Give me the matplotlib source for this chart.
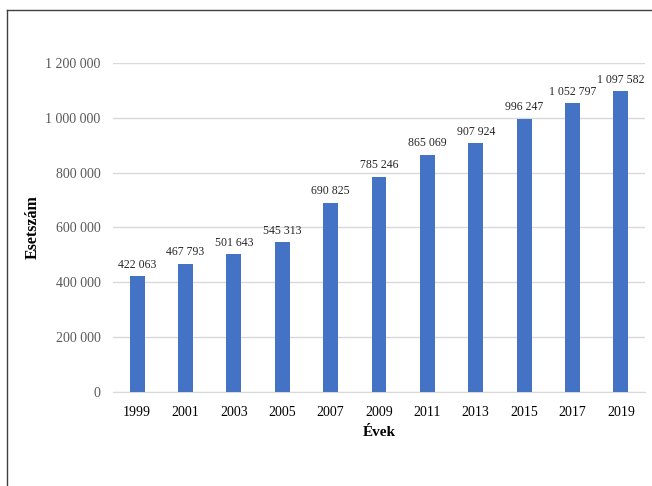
import matplotlib.pyplot as plt
from matplotlib.lines import Line2D
from matplotlib.ticker import FuncFormatter

years = ['1999', '2001', '2003', '2005', '2007', '2009', '2011', '2013', '2015', '2017', '2019']
cases = [422063, 467793, 501643, 545313, 690825, 785246, 865069, 907924, 996247, 1052797, 1097582]

plt.rcParams['font.family'] = ['Liberation Serif', 'DejaVu Serif']


def fmt(v, pos=None):
    return '{:,}'.format(int(v)).replace(',', ' ')


W, H = 652, 486
fig = plt.figure(figsize=(W / 100, H / 100), dpi=100)
ax = fig.add_axes([113 / W, 1 - 392 / H, (645 - 113) / W, (392 - 63) / H])

x = range(len(years))
bars = ax.bar(x, cases, width=0.31, color='#4472C4', zorder=3)
for xi, v in zip(x, cases):
    ax.annotate(fmt(v), (xi, v), xytext=(0, 4), textcoords='offset points',
                ha='center', va='bottom', fontsize=8.5, color='#262626')

ax.set_xlim(-0.5, len(years) - 0.5)
ax.set_ylim(0, 1200000)
ax.set_yticks(range(0, 1200001, 200000))
ax.yaxis.set_major_formatter(FuncFormatter(fmt))
ax.set_xticks(list(x))
ax.set_xticklabels(years)
ax.grid(axis='y', color='#D9D9D9', linewidth=1, zorder=0)
for s in ['top', 'right', 'left']:
    ax.spines[s].set_visible(False)
ax.spines['bottom'].set_color('#D9D9D9')
ax.tick_params(axis='both', length=0)
ax.tick_params(axis='y', labelsize=10, labelcolor='#595959', pad=9)
ax.tick_params(axis='x', labelsize=10, labelcolor='black', pad=10)

ax.set_xlabel('Évek', fontsize=11, fontweight='bold', labelpad=5)
ax.set_ylabel('Esetszám', fontsize=11.5, fontweight='bold')
ax.yaxis.set_label_coords((41 - 113) / (645 - 113), 0.5)

# outer frame (left and top edges)
fig.add_artist(Line2D([7 / W, 7 / W], [0, 1 - 10.5 / H], color='#404040', lw=1))
fig.add_artist(Line2D([7 / W, 1], [1 - 10.5 / H, 1 - 10.5 / H], color='#404040', lw=1))

plt.savefig('out.png', dpi=100)
